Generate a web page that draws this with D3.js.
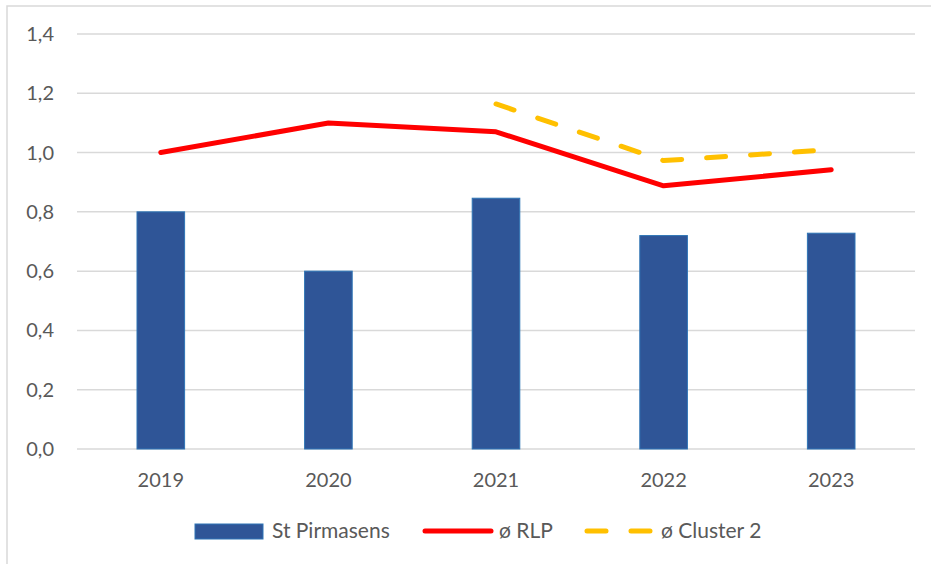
<!DOCTYPE html>
<html>
<head>
<meta charset="utf-8">
<script src="https://cdn.jsdelivr.net/npm/d3@7"></script>
<style>
  body { margin: 0; background: #fff; }
  svg text { font-family: Lato, "Open Sans", sans-serif; fill: #595959; }
</style>
</head>
<body>
<svg id="chart" width="931" height="564"></svg>
<script>
var years = ['2019', '2020', '2021', '2022', '2023'];
var pirmasens = [0.80, 0.60, 0.846, 0.72, 0.728];
var rlp = [1.00, 1.10, 1.07, 0.888, 0.942];
var cluster2 = [null, null, 1.164, 0.973, 1.01];
var yTicks = [0, 0.2, 0.4, 0.6, 0.8, 1.0, 1.2, 1.4];

var svg = d3.select('#chart');

var margin = { top: 34, right: 16, bottom: 115, left: 77 };
var width = 931, height = 564;

// chart frame
svg.append('rect')
    .attr('x', 7).attr('y', 6)
    .attr('width', 940).attr('height', 600)
    .attr('fill', 'none')
    .attr('stroke', '#d9d9d9')
    .attr('stroke-width', 1.5);

var x = d3.scaleBand()
    .domain(years)
    .range([margin.left, width - margin.right]);

var y = d3.scaleLinear()
    .domain([0, 1.4])
    .range([height - margin.bottom, margin.top]);

// gridlines
svg.append('g').selectAll('line')
    .data(yTicks)
    .enter().append('line')
    .attr('x1', margin.left)
    .attr('x2', width - margin.right)
    .attr('y1', function (d) { return y(d); })
    .attr('y2', function (d) { return y(d); })
    .attr('stroke', '#d9d9d9')
    .attr('stroke-width', 1.5);

// y labels
svg.append('g').selectAll('text')
    .data(yTicks)
    .enter().append('text')
    .attr('x', 54)
    .attr('y', function (d) { return y(d); })
    .attr('dy', '0.35em')
    .attr('text-anchor', 'end')
    .style('font-size', '20px')
    .text(function (d) { return d3.format('.1f')(d).replace('.', ','); });

// x labels
svg.append('g').selectAll('text')
    .data(years)
    .enter().append('text')
    .attr('x', function (d) { return x(d) + x.bandwidth() / 2; })
    .attr('y', 487)
    .attr('text-anchor', 'middle')
    .style('font-size', '20px')
    .text(function (d) { return d; });

// bars
var barW = x.bandwidth() * 0.284;
svg.append('g').selectAll('rect')
    .data(pirmasens)
    .enter().append('rect')
    .attr('x', function (d, i) { return x(years[i]) + x.bandwidth() / 2 - barW / 2; })
    .attr('y', function (d) { return y(d); })
    .attr('width', barW)
    .attr('height', function (d) { return y(0) - y(d); })
    .attr('fill', '#2f5597')
    .attr('stroke', '#2e75b6')
    .attr('stroke-width', 1);

var line = d3.line()
    .defined(function (d) { return d != null; })
    .x(function (d, i) { return x(years[i]) + x.bandwidth() / 2; })
    .y(function (d) { return y(d); });

svg.append('path')
    .datum(rlp)
    .attr('d', line)
    .attr('fill', 'none')
    .attr('stroke', '#ff0000')
    .attr('stroke-width', 5)
    .attr('stroke-linecap', 'round')
    .attr('stroke-linejoin', 'round');

svg.append('path')
    .datum(cluster2)
    .attr('d', line)
    .attr('fill', 'none')
    .attr('stroke', '#ffc000')
    .attr('stroke-width', 5)
    .attr('stroke-dasharray', '19,25')
    .attr('stroke-linecap', 'round')
    .attr('stroke-linejoin', 'round');

// legend
var ly = 531;
var legend = svg.append('g').style('font-size', '21px');
legend.append('rect')
    .attr('x', 195).attr('y', ly - 7)
    .attr('width', 68).attr('height', 15)
    .attr('fill', '#2f5597')
    .attr('stroke', '#2e75b6');
legend.append('text')
    .attr('x', 272).attr('y', ly).attr('dy', '0.35em')
    .text('St Pirmasens');

legend.append('line')
    .attr('x1', 425).attr('x2', 491)
    .attr('y1', ly).attr('y2', ly)
    .attr('stroke', '#ff0000')
    .attr('stroke-width', 5)
    .attr('stroke-linecap', 'round');
legend.append('text')
    .attr('x', 499).attr('y', ly).attr('dy', '0.35em')
    .text('ø RLP');

legend.append('line')
    .attr('x1', 587).attr('x2', 652)
    .attr('y1', ly).attr('y2', ly)
    .attr('stroke', '#ffc000')
    .attr('stroke-width', 5)
    .attr('stroke-dasharray', '19,25')
    .attr('stroke-linecap', 'round');
legend.append('text')
    .attr('x', 661).attr('y', ly).attr('dy', '0.35em')
    .text('ø Cluster 2');
</script>
</body>
</html>
